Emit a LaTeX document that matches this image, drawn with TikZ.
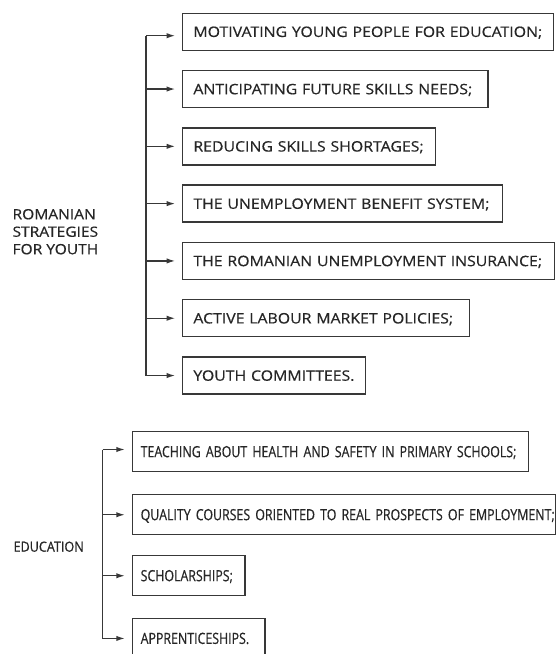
\documentclass[tikz,border=0pt]{standalone}
\usepackage{fontspec}
\setmainfont{Open Sans}
\newfontfamily\wideface[FakeStretch=1.1,FakeBold=0.5]{Open Sans}
\newfontfamily\midface[FakeStretch=0.9,FakeBold=0.5]{Open Sans}
\newfontfamily\narrowface[FakeStretch=0.8,FakeBold=0.5]{Open Sans}
\usetikzlibrary{arrows.meta}

\begin{document}
\begin{tikzpicture}[x=0.75pt,y=-0.75pt,
  ink/.style={draw=black!78, line width=1.1pt},
  box/.style={ink, anchor=north west, align=left, inner ysep=0pt,
    text depth=0pt, text=black!85,
    execute at begin node={\hbox\bgroup}, execute at end node={\egroup}},
  topbox/.style={box, minimum height=27.75pt, inner xsep=8pt, text height=7.8pt,
    font=\wideface\fontsize{10.8}{13}\selectfont},
  lowbox/.style={box, minimum height=30pt, inner xsep=6.2pt, text height=8.2pt,
    font=\narrowface\fontsize{11.6}{13}\selectfont},
  feed/.style={ink, -{Latex[length=6.5pt,width=4pt]}, shorten >=5pt},
  heading/.style={anchor=west, align=left, inner sep=0pt, text=black!85}
]
\useasboundingbox (0,0) rectangle (556,654);
\clip (0,0) rectangle (556,654);

% ---- strategies for youth ----
\node[heading, font=\wideface\fontsize{10.6}{13.1}\selectfont] (strat) at (12.3,231.7)
  {ROMANIAN\\STRATEGIES\\FOR YOUTH};

\node[topbox, text width=262.25pt] (t1) at (182,12.5) {MOTIVATING YOUNG PEOPLE FOR EDUCATION;};
\node[topbox, text width=213.1pt]  (t2) at (182,69.8) {ANTICIPATING FUTURE SKILLS NEEDS;};
\node[topbox, text width=173.75pt] (t3) at (182,127.1) {REDUCING SKILLS SHORTAGES;};
\node[topbox, text width=224pt]    (t4) at (182,184.4) {THE UNEMPLOYMENT BENEFIT SYSTEM;};
\node[topbox, text width=263pt]    (t5) at (182,241.7) {THE ROMANIAN UNEMPLOYMENT INSURANCE;};
\node[topbox, text width=199.25pt] (t6) at (182,299) {ACTIVE LABOUR MARKET POLICIES;};
\node[topbox, text width=121.25pt] (t7) at (182,356.3) {YOUTH COMMITTEES.};

\coordinate (ttop) at (146,35.7);
\draw[feed] (ttop) -- (ttop -| t1.west);
\draw[feed] (ttop) |- (t7.west);
\foreach \n in {t2,t3,t4,t5,t6}
  \draw[feed] (\n.west -| ttop) -- (\n.west);

% ---- education ----
\node[heading, font=\midface\fontsize{10.5}{13}\selectfont] (edu) at (13.3,546.7) {EDUCATION};

\node[lowbox, text width=284.6pt] (b1) at (131.7,431) {TEACHING ABOUT HEALTH AND SAFETY IN PRIMARY SCHOOLS;};
\node[lowbox, text width=305.4pt] (b2) at (131.7,494) {QUALITY COURSES ORIENTED TO REAL PROSPECTS OF EMPLOYMENT;};
\node[lowbox, text width=72pt]    (b3) at (131.7,555) {SCHOLARSHIPS;};
\node[lowbox, text width=87pt]    (b4) at (131.7,617.7) {APPRENTICESHIPS.};

\coordinate (btop) at (102.5,449.5);
\draw[feed] (btop) -- (btop -| b1.west);
\draw[feed] (btop) |- (b4.west);
\foreach \n in {b2,b3}
  \draw[feed] (\n.west -| btop) -- (\n.west);
\end{tikzpicture}
\end{document}
